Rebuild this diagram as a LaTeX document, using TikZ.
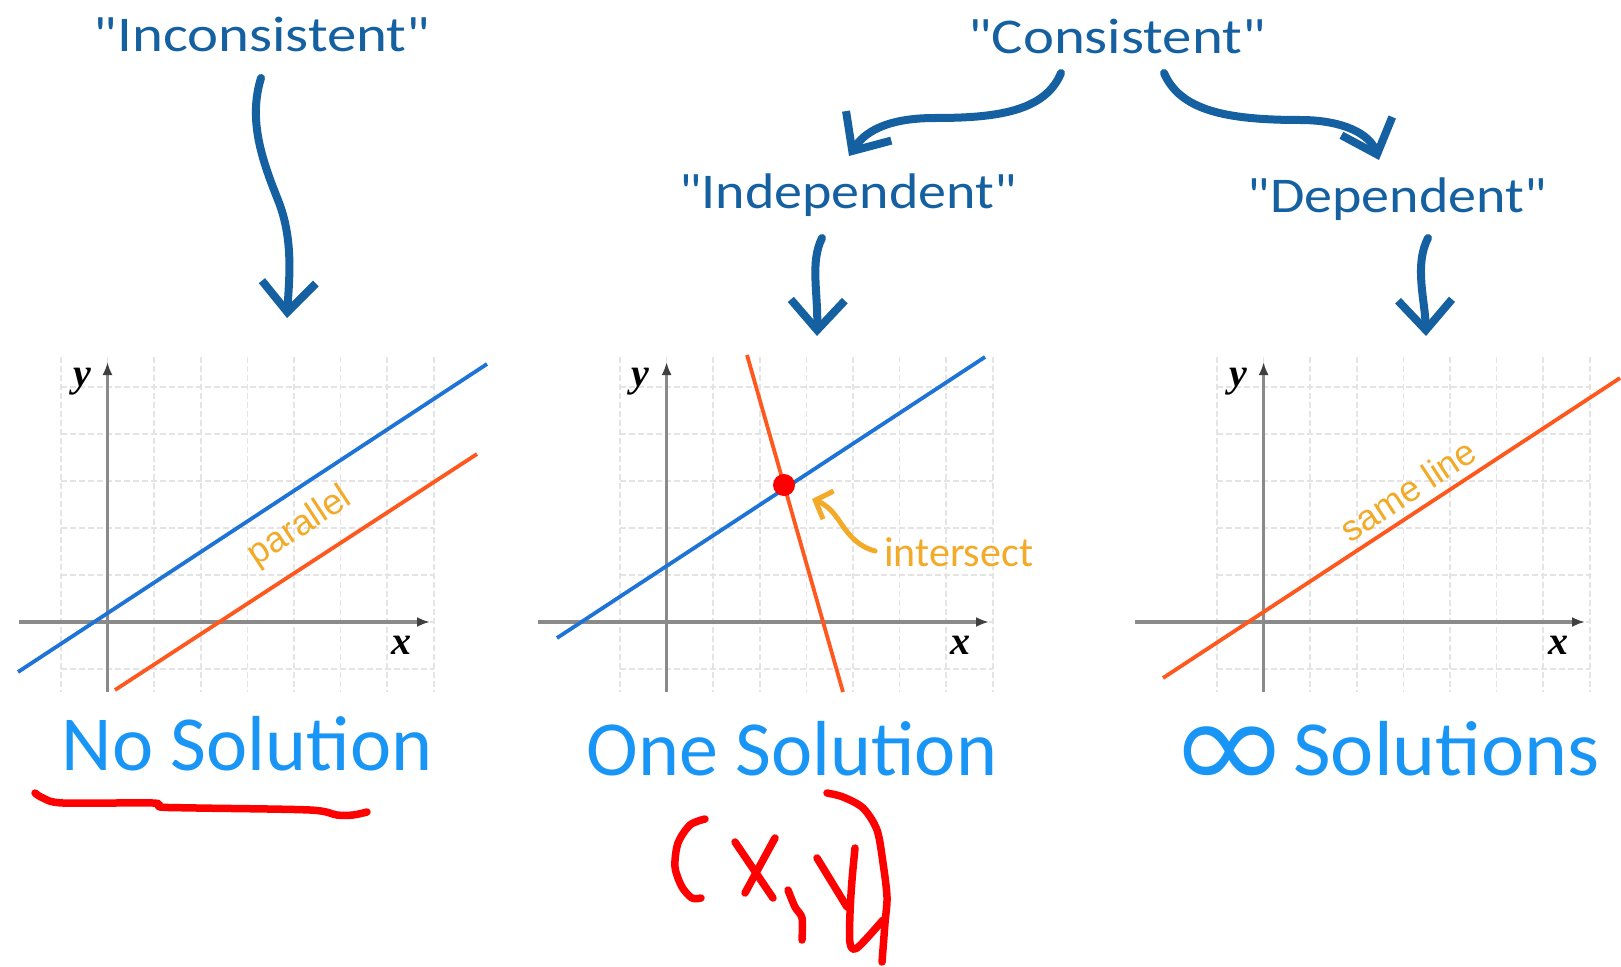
\documentclass[tikz,border=0pt]{standalone}
\usepackage{fontspec}
\setmainfont{Liberation Sans}
\newfontfamily\hand[Ligatures=TeXOff]{Carlito}
\newfontfamily\handwide[Ligatures=TeXOff,FakeStretch=1.12]{Carlito}
\newfontfamily\axisfont{Liberation Serif}
\newfontfamily\symfont{DejaVu Sans}
\usetikzlibrary{arrows.meta}
\definecolor{darkblue}{RGB}{20,96,160}
\definecolor{brightblue}{RGB}{25,150,245}
\definecolor{lineblue}{RGB}{30,115,215}
\definecolor{lineorange}{RGB}{255,88,30}
\definecolor{lblorange}{RGB}{242,170,40}
\definecolor{penred}{RGB}{255,0,0}
\definecolor{gridc}{RGB}{228,228,228}
\definecolor{axisc}{RGB}{138,138,138}
\newcommand\mypanel[1]{%
  \foreach \k in {0,...,8} \draw[gridline] ({#1+46.6*\k},357) -- ({#1+46.6*\k},692);
  \foreach \k in {0,...,6} \draw[gridline] (#1,{387+47*\k}) -- ({#1+373},{387+47*\k});
}
\begin{document}
\begin{tikzpicture}[x=1pt,y=-1pt,
  gridline/.style={draw=gridc, line width=1.6pt, dash pattern=on 6pt off 3pt},
  axisline/.style={draw=axisc, line width=3.5pt, -{Latex[length=13pt,width=10pt,color=black!75]}},
  blueline/.style={draw=lineblue, line width=3.8pt},
  orangeline/.style={draw=lineorange, line width=3.8pt},
  toplbl/.style={text=darkblue, font=\handwide\fontsize{50}{60}\selectfont, inner sep=0pt, anchor=base},
  botlbl/.style={text=brightblue, font=\hand\fontsize{78}{90}\selectfont, inner sep=0pt, anchor=base},
  axlbl/.style={font=\axisfont\bfseries\itshape\fontsize{40}{48}\selectfont, inner sep=0pt},
  linelbl/.style={text=lblorange, font=\fontsize{36}{42}\selectfont, inner sep=0pt, rotate=33.3},
  flowarrow/.style={draw=darkblue, line width=8pt, line cap=round, -{Straight Barb[length=30pt,width=54pt]}},
  pen/.style={draw=penred, line width=7.5pt, line cap=round, line join=round},
]
\fill[white] (0,0) rectangle (1621,966);
\useasboundingbox (0,0) rectangle (1621,966);

% ---------- grids and axes ----------
\mypanel{61}
\mypanel{620}
\mypanel{1217}
\draw[axisline] (19,622) -- (430,622);
\draw[axisline] (107.5,692) -- (107.5,362);
\draw[axisline] (538,622) -- (989,622);
\draw[axisline] (666.6,692) -- (666.6,362);
\draw[axisline] (1135,622) -- (1585,622);
\draw[axisline] (1263.6,692) -- (1263.6,362);
\node[axlbl] (y1) at (82,382) {y};
\node[axlbl] (x1) at (401,645) {x};
\node[axlbl] (y2) at (640,382) {y};
\node[axlbl] (x2) at (960,645) {x};
\node[axlbl] (y3) at (1238,382) {y};
\node[axlbl] (x3) at (1558,645) {x};

% ---------- lines ----------
\draw[blueline] (18,672) -- (487,364);
\draw[orangeline] (115,690) -- (477,454);
\draw[blueline] (557,638) -- (985,357);
\draw[orangeline] (747,355) -- (843,692);
\draw[orangeline] (1163,678) -- (1620,378);
\node[circle, fill=penred, minimum size=22pt, inner sep=0pt] (dot) at (784,485) {};
\node[linelbl] (par) at (300,527) {parallel};
\node[linelbl] (same) at (1408,490) {same line};
\node[text=lblorange, font=\hand\fontsize{42}{50}\selectfont, inner sep=0pt, anchor=base west] (intl) at (884,566) {intersect};
\coordinate (intTail) at (875,551);
\draw[draw=lblorange, line width=5pt, line cap=round, -{Straight Barb[length=14pt,width=30pt]}]
  (intTail) .. controls (852,545) and (843,525) .. (835,515) .. controls (828,506) and (820,502) .. (812,499);

% ---------- top labels ----------
\node[toplbl] (inc) at (262,52) {\scalebox{1.05}[1]{"Inconsistent"}};
\node[toplbl] (con) at (1117,53) {\scalebox{1.05}[1]{"Consistent"}};
\node[toplbl] (ind) at (848,208) {"Independent"};
\node[toplbl] (dep) at (1397,212) {"Dependent"};
\coordinate (incS) at (261,78);
\coordinate (incT) at (287,318);
\coordinate (conL) at (1061,73);
\coordinate (conR) at (1164,73);
\coordinate (indT) at (849,156);
\coordinate (depT) at (1379,160);
\coordinate (indS) at (822,238);
\coordinate (indP) at (817,336);
\coordinate (depS) at (1428,238);
\coordinate (depP) at (1426,336);
\draw[flowarrow] (incS) .. controls (248,120) and (262,160) .. (278,200) .. controls (294,240) and (289,280) .. (incT);
\draw[flowarrow] (conL) .. controls (1045,112) and (995,118) .. (935,118) .. controls (885,118) and (864,133) .. (indT);
\draw[flowarrow] (conR) .. controls (1180,110) and (1225,120) .. (1300,120) .. controls (1345,120) and (1370,135) .. (depT);
\draw[flowarrow] (indS) .. controls (810,262) and (818,292) .. (indP);
\draw[flowarrow] (depS) .. controls (1414,265) and (1425,300) .. (depP);

% ---------- bottom labels ----------
\node[botlbl] (none) at (247,770) {No Solution};
\node[botlbl] (one) at (792,775) {One Solution};
\node[botlbl, anchor=base west] (inf) at (1168,775) {\raisebox{-15pt}{\scalebox{1.88}[1.68]{\symfont ∞}}\hspace{3pt}\scalebox{1.05}[1]{Solutions}};

% ---------- red handwriting ----------
\draw[pen] plot[smooth, tension=0.5] coordinates {(35,793) (43,798) (63,803) (153,803) (160,807) (197,808) (310,810) (337,815) (353,815) (367,812)};
\draw[pen] plot[smooth] coordinates {(705,819) (690,825) (678,843) (675,867) (682,887) (692,898) (701,898)};
\draw[pen] (735,842) -- (773,898);
\draw[pen] (775,838) -- (745,893);
\draw[pen] plot[smooth] coordinates {(788,890) (795,907) (802,918) (802,940)};
\draw[pen] (817,858) -- (847,907);
\draw[pen] plot[smooth] coordinates {(855,848) (852,880) (850,913) (850,943) (857,948) (883,920)};
\draw[pen] plot[smooth] coordinates {(827,793) (843,797) (863,808) (877,830) (883,863) (887,897) (885,923) (882,962)};
\end{tikzpicture}
\end{document}
